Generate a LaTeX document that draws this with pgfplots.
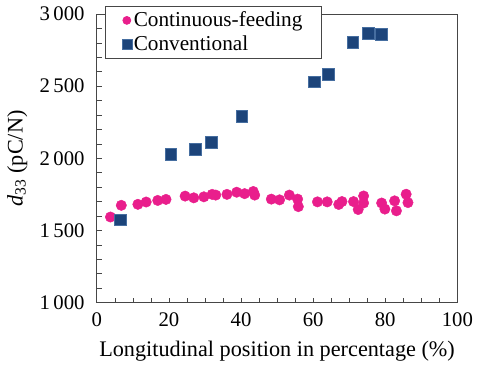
\documentclass[border=0pt]{standalone}
\usepackage{pgfplots}
\pgfplotsset{compat=1.18}
\usepackage{fontspec}
\setmainfont{Liberation Serif}
\definecolor{cpink}{RGB}{233,30,140}
\definecolor{cblue}{RGB}{28,68,122}
\definecolor{cborder}{RGB}{70,110,160}
\definecolor{axgray}{RGB}{70,70,70}
\begin{document}
\fontsize{21.5}{24}\selectfont
\begin{tikzpicture}
\begin{axis}[
  scale only axis,
  width=365pt, height=292pt,
  xmin=0, xmax=100, ymin=1000, ymax=3000,
  xtick={0,20,...,100},
  ytick={1000,1500,...,3000},
  minor x tick num=3,
  minor y tick num=4,
  tick align=inside,
  major tick length=5pt,
  minor tick length=5pt,
  axis line style={axgray, line width=0.8pt},
  tick style={axgray, line width=0.6pt},
  xtick pos=bottom, ytick pos=left,
  /pgf/number format/assume math mode=true,
  /pgf/number format/1000 sep={\,},
  scaled y ticks=false,
  tick label style={font=\fontsize{21}{24}\selectfont},
  yticklabel style={xshift=-5pt},
  xticklabel style={yshift=-3pt},
  label style={font=\fontsize{22.5}{25}\selectfont},
  xlabel={Longitudinal position in percentage (\%)},
  ylabel={\textit{d}\textsubscript{33} (pC/N)},
  xlabel style={yshift=0pt},
  ylabel style={yshift=-2pt},
  legend style={at={(0.022,1.028)}, anchor=north west, draw=axgray, line width=0.8pt, fill=white,
    font=\fontsize{21.5}{24}\selectfont, inner xsep=17pt, inner ysep=3pt, row sep=2pt},
  legend cell align=left,
]
\addplot[only marks, mark=*, mark size=5.3pt, color=cpink, mark options={draw=cpink, fill=cpink},
  legend image post style={mark size=4pt}] coordinates {
(3.8,1593) (6.8,1674) (11.4,1681) (13.7,1697) (16.9,1708) (19.2,1715)
(24.5,1738) (26.9,1726) (29.7,1733) (32,1750) (33,1745) (36.1,1750)
(38.8,1765) (41,1755) (43.4,1770) (43.8,1745) (48.4,1717) (50.7,1712)
(53.4,1745) (55.7,1717) (55.9,1665) (61.2,1698) (63.9,1698) (67.1,1680)
(68,1700) (71.2,1700) (72.5,1645) (74,1739) (74,1690) (79,1690)
(79.9,1648) (82.6,1705) (83.1,1636) (85.8,1751) (86.3,1693)
};
\addlegendentry{Continuous-feeding}
\addplot[only marks, mark=square*, mark size=6pt, mark options={draw=cborder, fill=cblue, line width=0.5pt},
  legend image post style={mark size=5pt}] coordinates {
(6.6,1574) (20.5,2028) (27.4,2062) (31.8,2110) (40.2,2294)
(60.3,2531) (64.1,2584) (71.0,2805) (75.3,2869) (78.8,2860)
};
\addlegendentry{Conventional}
\end{axis}
\end{tikzpicture}
\end{document}
